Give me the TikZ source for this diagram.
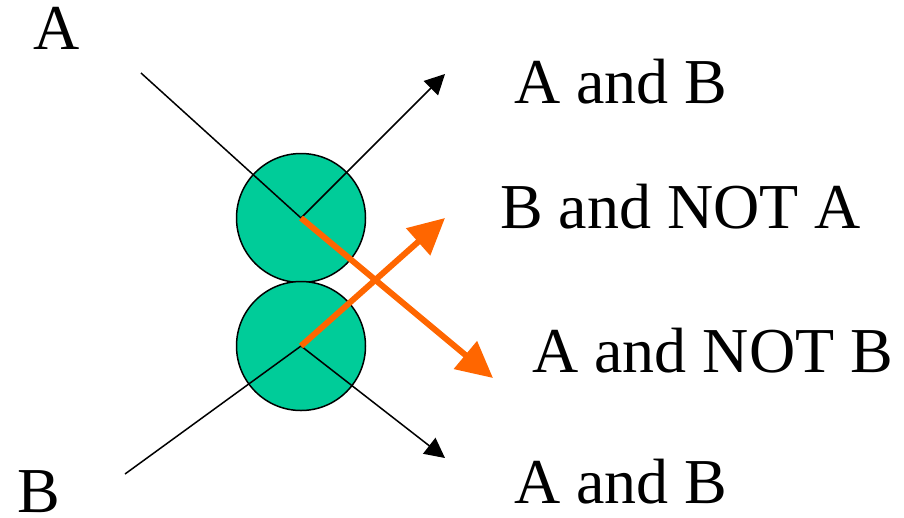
\documentclass[tikz,border=0pt]{standalone}
\usepackage{fontspec}
\setmainfont{Liberation Serif}
\usetikzlibrary{arrows.meta}
\definecolor{disk}{HTML}{00CC99}
\definecolor{orng}{HTML}{FF6600}
\begin{document}
\begin{tikzpicture}[x=1pt,y=-1pt,
  disc/.style={circle,draw=black,line width=1.5pt,fill=disk,minimum size=129pt,inner sep=0pt},
  thin/.style={line width=1.5pt,black},
  thinarrow/.style={thin,-{Triangle[length=20pt,width=20pt]}},
  bigarrow/.style={line width=6pt,orng,-{Triangle[length=36pt,width=35pt]}},
  lbl/.style={anchor=base west,inner sep=0pt,font=\fontsize{64}{64}\selectfont}]
\useasboundingbox (0,0) rectangle (904,517);
\node[disc] (up) at (301,218) {};
\node[disc] (dn) at (301,346) {};
\coordinate (c1) at (301,218);
\coordinate (c2) at (301,346);
\coordinate (as) at (141,73);
\coordinate (bs) at (125,474);
\coordinate (t1) at (445,74);
\coordinate (t2) at (445,218);
\coordinate (t3) at (493,378);
\coordinate (t4) at (445,458);
\draw[thin] (as) -- (c1);
\draw[thinarrow] (c1) -- (t1);
\draw[thin] (bs) -- (c2);
\draw[thinarrow] (c2) -- (t4);
\draw[bigarrow] (c1) -- (t3);
\draw[bigarrow] (c2) -- (t2);
\node[lbl] (la) at (33,49) {A};
\node[lbl] (lb) at (17,512) {B};
\node[lbl] (l1) at (514,103) {A and B};
\node[lbl] (l2) at (500,228) {B and NOT A};
\node[lbl] (l3) at (532,372) {A and NOT B};
\node[lbl] (l4) at (514,503) {A and B};
\end{tikzpicture}
\end{document}
